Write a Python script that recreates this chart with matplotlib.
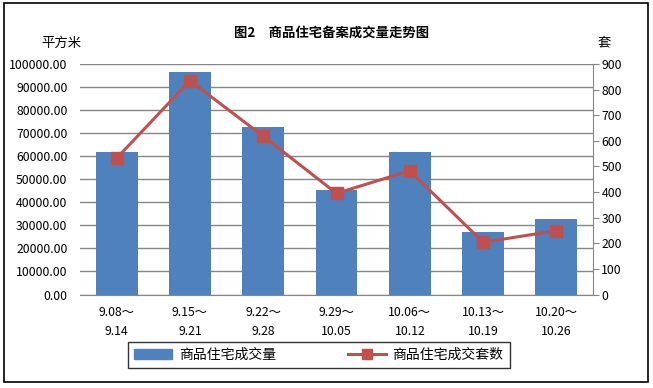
import matplotlib
matplotlib.use("Agg")
import matplotlib.pyplot as plt
from matplotlib.patches import Rectangle
from matplotlib.lines import Line2D
from matplotlib.patches import Patch

plt.rcParams['font.family'] = ['Noto Sans CJK SC', 'DejaVu Sans']

categories = ["9.08～\n9.14", "9.15～\n9.21", "9.22～\n9.28", "9.29～\n10.05",
              "10.06～\n10.12", "10.13～\n10.19", "10.20～\n10.26"]
area = [61800, 96500, 72700, 45300, 61900, 27100, 32700]
units = [532, 835, 618, 395, 483, 204, 249]
left_ticks = [0, 10000, 20000, 30000, 40000, 50000, 60000, 70000, 80000, 90000, 100000]
right_ticks = [0, 100, 200, 300, 400, 500, 600, 700, 800, 900]

bar_color = "#4F81BD"
line_color = "#C0504D"
grid_color = "#868686"

fig = plt.figure(figsize=(6.53, 3.88), dpi=100)
fig.patches.append(Rectangle((4/653, 1 - 382/388), 644/653, 379/388, transform=fig.transFigure,
                             fill=False, edgecolor="black", linewidth=1.2))

ax = fig.add_axes([80/653, 1 - 294.5/388, 513/653, 230.5/388])
x = list(range(len(categories)))
ax.bar(x, area, width=0.57, color=bar_color, zorder=2)
ax.set_xlim(-0.5, len(categories) - 0.5)
ax.set_ylim(0, 100000)
ax.set_yticks(left_ticks)
ax.set_yticklabels([f"{v:.2f}" for v in left_ticks], fontsize=8.8)
ax.set_xticks(x)
ax.set_xticklabels(categories, fontsize=8.8, linespacing=1.6)
ax.yaxis.grid(True, color=grid_color, linewidth=1, zorder=0)
ax.set_axisbelow(True)
for s in ["top", "left", "right"]:
    ax.spines[s].set_visible(False)
ax.spines["bottom"].set_color(grid_color)
ax.tick_params(axis="y", length=0, pad=9)
ax.tick_params(axis="x", length=0, pad=8)

ax2 = ax.twinx()
ax2.plot(x, units, color=line_color, linewidth=2.2, marker="s", markersize=8,
         markerfacecolor=line_color, markeredgecolor=line_color, zorder=3)
ax2.set_ylim(0, 900)
ax2.set_yticks(right_ticks)
ax2.set_yticklabels([str(v) for v in right_ticks], fontsize=8.8)
for s in ["top", "left", "bottom"]:
    ax2.spines[s].set_visible(False)
ax2.spines["right"].set_color(grid_color)
ax2.tick_params(axis="y", length=4, color=grid_color, direction="out", pad=2)

fig.text(332/653, 1 - 33/388, "图2　商品住宅备案成交量走势图", ha="center", va="center",
         fontsize=9.6, fontweight="bold")
fig.text(61/653, 1 - 43/388, "平方米", ha="center", va="center", fontsize=9.6)
fig.text(604/653, 1 - 42/388, "套", ha="center", va="center", fontsize=9.6)

handles = [Patch(facecolor=bar_color, edgecolor=bar_color),
           Line2D([0], [0], color=line_color, linewidth=2.2, marker="s", markersize=7)]
leg = fig.legend(handles, ["商品住宅成交量", "商品住宅成交套数"], ncol=2,
                 loc="center", bbox_to_anchor=((131 + 507) / 2 / 653, 1 - 355/388),
                 frameon=True, fancybox=False, fontsize=10, handlelength=2.7,
                 columnspacing=5.2, borderpad=0.45, handletextpad=0.5,
                 borderaxespad=0)
leg.get_frame().set_edgecolor("black")
leg.get_frame().set_linewidth(1)

fig.savefig("out.png", dpi=100)
